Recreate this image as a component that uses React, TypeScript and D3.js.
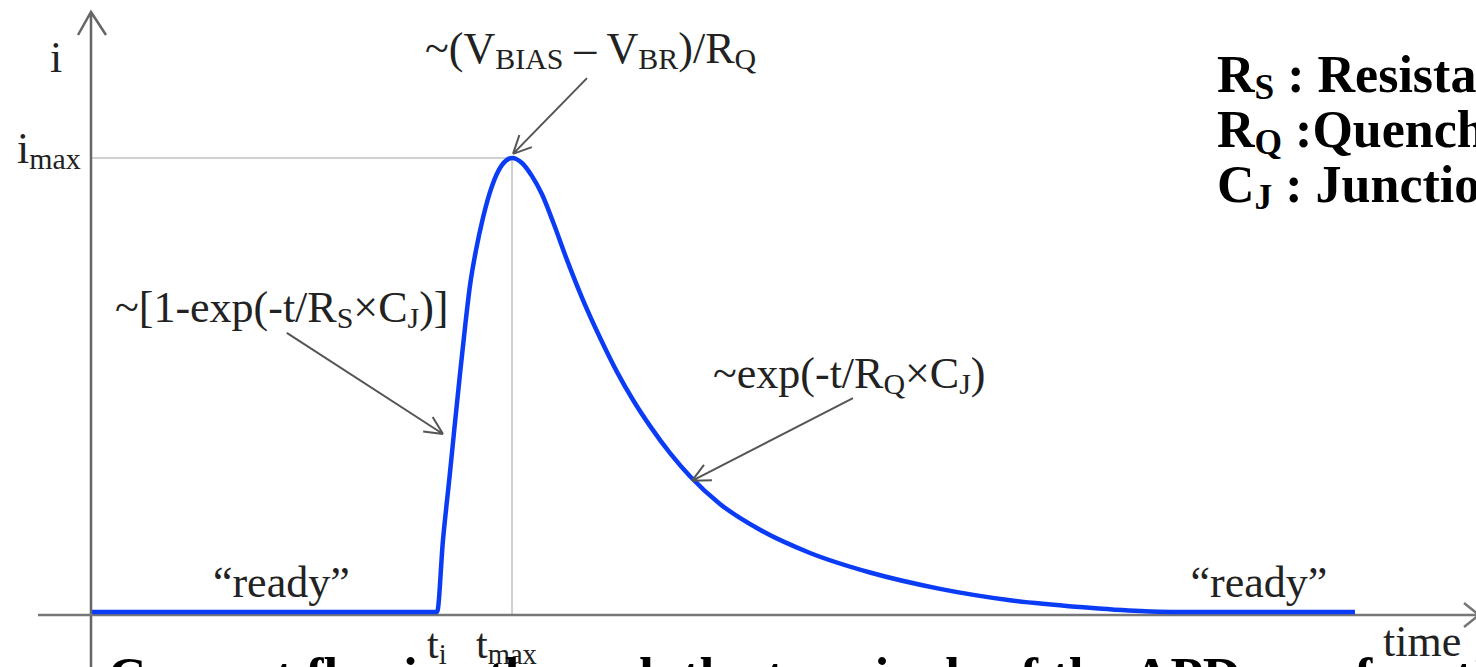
import { useEffect, useRef } from 'react';
import * as d3 from 'd3';

const width = 1476;
const height = 667;

// pulse: time in a.u. (0 at the i axis), current normalised to i_max
const timeValues = [
	0.15, 25.04, 25.47, 25.97, 26.33, 26.7, 27.06, 27.42, 27.85, 28.35, 29.0, 29.73, 30.45, 31.17, 31.89, 32.61,
	33.41, 34.42, 35.57, 36.8, 38.02, 39.18, 40.4, 41.85, 43.29, 45.45, 48.34, 51.95, 56.28, 61.33, 66.38, 71.43,
	75.76, 78.07, 91.27,
];
const currentValues = [
	0, 0, 0.159, 0.306, 0.416, 0.526, 0.628, 0.72, 0.797, 0.868, 0.938, 0.985, 1, 0.989, 0.96, 0.92, 0.859, 0.775,
	0.687, 0.604, 0.529, 0.467, 0.41, 0.35, 0.299, 0.238, 0.181, 0.13, 0.087, 0.051, 0.026, 0.011, 0.002, 0, 0,
];

const tRise = 25.04; // t_i
const tPeak = 30.45; // t_max

type Part = { text: string; sub?: boolean };

// annotations (label anchor + arrow, all in data units)
const annotationLabels: Part[][] = [
	[{ text: '~(V' }, { text: 'BIAS', sub: true }, { text: ' – V' }, { text: 'BR', sub: true }, { text: ')/R' }, { text: 'Q', sub: true }],
	[{ text: '~[1-exp(-t/R' }, { text: 'S', sub: true }, { text: '×C' }, { text: 'J', sub: true }, { text: ')]' }],
	[{ text: '~exp(-t/R' }, { text: 'Q', sub: true }, { text: '×C' }, { text: 'J', sub: true }, { text: ')' }],
];
const labelTimes = [24.17, 1.8, 44.95];
const labelCurrents = [1.209, 0.639, 0.493];
const arrowFromTimes = [35.86, 14.2, 55.05];
const arrowFromCurrents = [1.176, 0.615, 0.471];
const arrowToTimes = [30.52, 25.47, 43.43];
const arrowToCurrents = [1.009, 0.392, 0.289];

const readyTimes = [8.87, 79.4];
const readyCurrent = 0.033;

const legendLines: Part[][] = [
	[{ text: 'R' }, { text: 'S', sub: true }, { text: ' : Resistance of the diode' }],
	[{ text: 'R' }, { text: 'Q', sub: true }, { text: ' :Quenching resistor' }],
	[{ text: 'C' }, { text: 'J', sub: true }, { text: ' : Junction capacitance' }],
];
const caption = 'Current flowing through the terminals of the APD as a function of time';

const serif = '"Liberation Serif", "Times New Roman", serif';

// writes a text with subscripts as tspans
const writeParts = (
	sel: d3.Selection<SVGTextElement, unknown, null, undefined>,
	parts: Part[],
	size: number,
) => {
	const shift = size * 0.14;
	let down = false;
	parts.forEach((p) => {
		const t = sel.append('tspan').text(p.text);
		if (p.sub && !down) {
			t.attr('dy', shift).attr('font-size', size * 0.68);
			down = true;
		} else if (!p.sub && down) {
			t.attr('dy', -shift);
			down = false;
		} else if (p.sub) {
			t.attr('font-size', size * 0.68);
		}
	});
};

const drawArrow = (
	g: d3.Selection<SVGGElement, unknown, null, undefined>,
	x1: number,
	y1: number,
	x2: number,
	y2: number,
) => {
	const a = Math.atan2(y2 - y1, x2 - x1);
	const len = 20;
	const spread = 0.45;
	const head = [a + Math.PI - spread, a + Math.PI + spread]
		.map((b) => `M${x2 + len * Math.cos(b)},${y2 + len * Math.sin(b)}L${x2},${y2}`)
		.join('');
	g.append('path')
		.attr('d', `M${x1},${y1}L${x2},${y2}${head}`)
		.attr('fill', 'none')
		.attr('stroke', '#555')
		.attr('stroke-width', 2);
};

export default function App() {
	const svgRef = useRef<SVGSVGElement>(null);

	useEffect(() => {
		if (!svgRef.current) return;
		const svg = d3.select(svgRef.current);
		svg.selectAll('*').remove();

		const x = d3.scaleLinear().domain([0, 100]).range([90, 1476]);
		const y = d3.scaleLinear().domain([0, 1]).range([612, 158]);

		const axisY = y(0) + 3;
		const axisX = x(0) + 1;
		const g = svg.append('g');

		// guide lines to i_max / t_max
		g.append('line')
			.attr('x1', axisX)
			.attr('x2', x(tPeak))
			.attr('y1', y(1))
			.attr('y2', y(1))
			.attr('stroke', '#d0d0d0')
			.attr('stroke-width', 2);
		g.append('line')
			.attr('x1', x(tPeak))
			.attr('x2', x(tPeak))
			.attr('y1', y(1))
			.attr('y2', axisY)
			.attr('stroke', '#d0d0d0')
			.attr('stroke-width', 2);

		// axes with open arrow heads
		g.append('path')
			.attr('d', `M${axisX},${height}V12M${axisX - 13},35L${axisX},12L${axisX + 15},35`)
			.attr('fill', 'none')
			.attr('stroke', '#666')
			.attr('stroke-width', 2.5);
		g.append('path')
			.attr('d', `M38,${axisY}H1479M1464,${axisY - 12}L1479,${axisY}L1464,${axisY + 12}`)
			.attr('fill', 'none')
			.attr('stroke', '#777')
			.attr('stroke-width', 2.5);

		// pulse
		const line = d3
			.line<number>()
			.x((d) => x(d))
			.y((_, i) => y(currentValues[i]))
			.curve(d3.curveMonotoneX);
		g.append('path')
			.attr('d', line(timeValues))
			.attr('fill', 'none')
			.attr('stroke', '#0a3cf5')
			.attr('stroke-width', 4.5)
			.attr('stroke-linejoin', 'round');

		// annotations
		annotationLabels.forEach((parts, k) => {
			const t = g
				.append('text')
				.attr('x', x(labelTimes[k]))
				.attr('y', y(labelCurrents[k]))
				.attr('font-family', serif)
				.attr('font-size', 44)
				.attr('fill', '#222');
			writeParts(t, parts, 44);
			drawArrow(g, x(arrowFromTimes[k]), y(arrowFromCurrents[k]), x(arrowToTimes[k]), y(arrowToCurrents[k]));
		});

		readyTimes.forEach((tv) => {
			g.append('text')
				.attr('x', x(tv))
				.attr('y', y(readyCurrent))
				.attr('font-family', serif)
				.attr('font-size', 44)
				.attr('fill', '#222')
				.text('“ready”');
		});

		// axis labels
		const axisLabel = (px: number, py: number, parts: Part[], size: number) => {
			const t = g
				.append('text')
				.attr('x', px)
				.attr('y', py)
				.attr('font-family', serif)
				.attr('font-size', size)
				.attr('fill', '#222');
			writeParts(t, parts, size);
		};
		axisLabel(50, 72, [{ text: 'i' }], 44);
		axisLabel(17, y(1) + 5, [{ text: 'i' }, { text: 'max', sub: true }], 44);
		axisLabel(x(tRise) - 10, 658, [{ text: 't' }, { text: 'i', sub: true }], 42);
		axisLabel(x(tPeak) - 36, 658, [{ text: 't' }, { text: 'max', sub: true }], 42);
		axisLabel(1383, 656, [{ text: 'time' }], 44);

		// legend on the right
		legendLines.forEach((parts, k) => {
			const t = g
				.append('text')
				.attr('x', 1217)
				.attr('y', 92 + k * 55)
				.attr('font-family', serif)
				.attr('font-weight', 'bold')
				.attr('font-size', 52)
				.attr('fill', '#000');
			writeParts(t, parts, 52);
		});

		// caption, cut by the bottom edge
		g.append('text')
			.attr('x', 108)
			.attr('y', 694)
			.attr('font-family', serif)
			.attr('font-weight', 'bold')
			.attr('font-size', 53)
			.attr('fill', '#000')
			.text(caption);
	}, []);

	return (
		<div style={{ position: 'fixed', left: 0, top: 0, width, height, overflow: 'hidden', background: '#fff' }}>
			<svg ref={svgRef} width={width} height={height} style={{ display: 'block' }}></svg>
		</div>
	);
}
